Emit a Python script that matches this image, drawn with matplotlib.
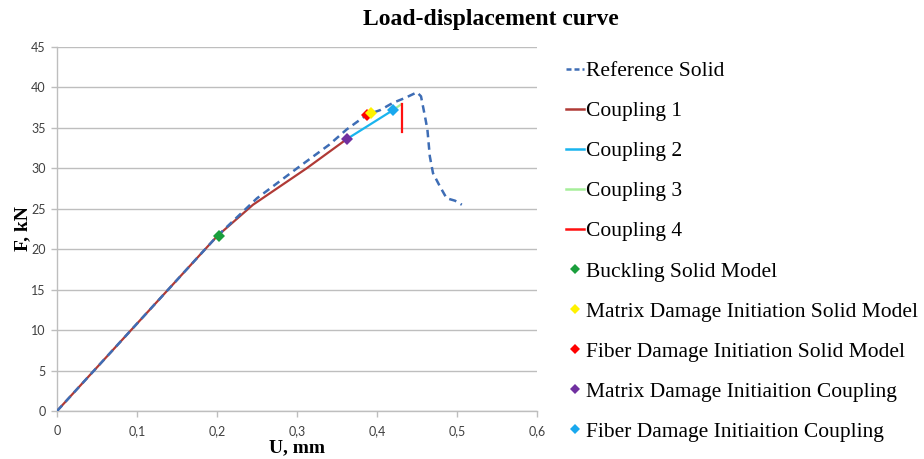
import matplotlib
matplotlib.use("Agg")
import matplotlib.pyplot as plt
from matplotlib.lines import Line2D

# ---- data ----
ref_x = [0, 0.1, 0.2, 0.25, 0.3, 0.34, 0.362, 0.387, 0.404, 0.42, 0.435, 0.45,
         0.455, 0.46, 0.463, 0.466, 0.47, 0.479, 0.487, 0.4975, 0.506]
ref_y = [0, 10.8, 21.6, 26.3, 30.0, 32.9, 34.8, 36.6, 37.2, 38.1, 38.7, 39.4,
         38.9, 36.4, 34.8, 31.5, 29.4, 27.7, 26.3, 26.0, 25.5]
c1_x = [0, 0.1, 0.2, 0.245, 0.312, 0.362]
c1_y = [0, 10.8, 21.6, 25.5, 30.0, 33.6]
c2_x = [0.362, 0.420]
c2_y = [33.6, 37.2]
c3_x = [0.420, 0.430]
c3_y = [37.2, 37.9]
c4_x = [0.431, 0.431]
c4_y = [37.9, 34.5]
buck = (0.202, 21.6)
mdi_solid = (0.3925, 36.9)
fdi_solid = (0.387, 36.6)
mdi_coup = (0.363, 33.6)
fdi_coup = (0.420, 37.2)

x_ticks = [0, 0.1, 0.2, 0.3, 0.4, 0.5, 0.6]
x_ticklabels = ["0", "0,1", "0,2", "0,3", "0,4", "0,5", "0,6"]
y_ticks = [0, 5, 10, 15, 20, 25, 30, 35, 40, 45]

line_labels = ["Reference Solid", "Coupling 1", "Coupling 2", "Coupling 3", "Coupling 4"]
marker_labels = ["Buckling Solid Model", "Matrix Damage Initiation Solid Model",
                 "Fiber Damage Initiation Solid Model", "Matrix Damage Initiaition Coupling",
                 "Fiber Damage Initiaition Coupling"]

# ---- styles ----
col_ref = "#3E6DB5"
col_c1 = "#B03A36"
col_c2 = "#19B4EE"
col_c3 = "#A6EE9A"
col_c4 = "#FF1010"
mcols = ["#1A9E3C", "#FFF200", "#FF0000", "#7030A0", "#19A8EE"]

serif = "Liberation Serif"
fig = plt.figure(figsize=(9.24, 4.59), dpi=100)
W, H = 924, 459
ax = fig.add_axes([57 / W, 1 - 411 / H, (537 - 57) / W, (411 - 47) / H])

ax.plot(c1_x, c1_y, color=col_c1, lw=1.6, zorder=3)
ax.plot(c2_x, c2_y, color=col_c2, lw=1.6, zorder=3)
ax.plot(c3_x, c3_y, color=col_c3, lw=1.6, zorder=3)
ax.plot(c4_x, c4_y, color=col_c4, lw=1.6, zorder=3)
ax.plot(ref_x, ref_y, color=col_ref, lw=1.8, ls=(0, (3, 2)), zorder=4)

pts = [buck, mdi_solid, fdi_solid, mdi_coup, fdi_coup]
order = [0, 2, 1, 3, 4]
for i in order:
    ax.plot([pts[i][0]], [pts[i][1]], marker="D", ms=6, color=mcols[i],
            markeredgewidth=0, ls="none", zorder=5)

ax.set_xlim(0, 0.6)
ax.set_ylim(0, 45)
ax.set_xticks(x_ticks)
ax.set_xticklabels(x_ticklabels)
ax.set_yticks(y_ticks)
ax.yaxis.grid(True, color="#BEBEBE", lw=1.0)
ax.set_axisbelow(True)
for s in ["top", "right"]:
    ax.spines[s].set_visible(False)
for s in ["left", "bottom"]:
    ax.spines[s].set_color("#BEBEBE")
    ax.spines[s].set_linewidth(1.0)
ax.tick_params(axis="both", colors="#BEBEBE", length=4, width=1,
               labelcolor="#404040", labelsize=9)
for lab in ax.get_xticklabels() + ax.get_yticklabels():
    lab.set_family("Lato")
ax.tick_params(axis="x", pad=6)
ax.tick_params(axis="y", pad=4)

ax.set_xlabel("U, mm", family=serif, fontweight="bold", fontsize=14, labelpad=2)
ax.set_ylabel("F, kN", family=serif, fontweight="bold", fontsize=14, labelpad=0)
fig.text(491 / W, 1 - 20 / H, "Load-displacement curve", family=serif,
         fontweight="bold", fontsize=17, ha="center", va="center")

handles = [
    Line2D([], [], color=col_ref, lw=1.8, ls=(0, (2, 1.2))),
    Line2D([], [], color=col_c1, lw=1.8),
    Line2D([], [], color=col_c2, lw=1.8),
    Line2D([], [], color=col_c3, lw=1.8),
    Line2D([], [], color=col_c4, lw=1.8),
]
for c in mcols:
    handles.append(Line2D([], [], color=c, marker="D", ms=5, markeredgewidth=0, ls="none"))
fig.legend(handles, line_labels + marker_labels, loc="upper left",
           bbox_to_anchor=(566 / W, 1 - 61 / H), frameon=False,
           prop={"family": serif, "size": 15.5}, handlelength=0.85,
           handletextpad=0.1, labelspacing=0.93, borderaxespad=0, borderpad=0)

fig.savefig("out.png", dpi=100)
